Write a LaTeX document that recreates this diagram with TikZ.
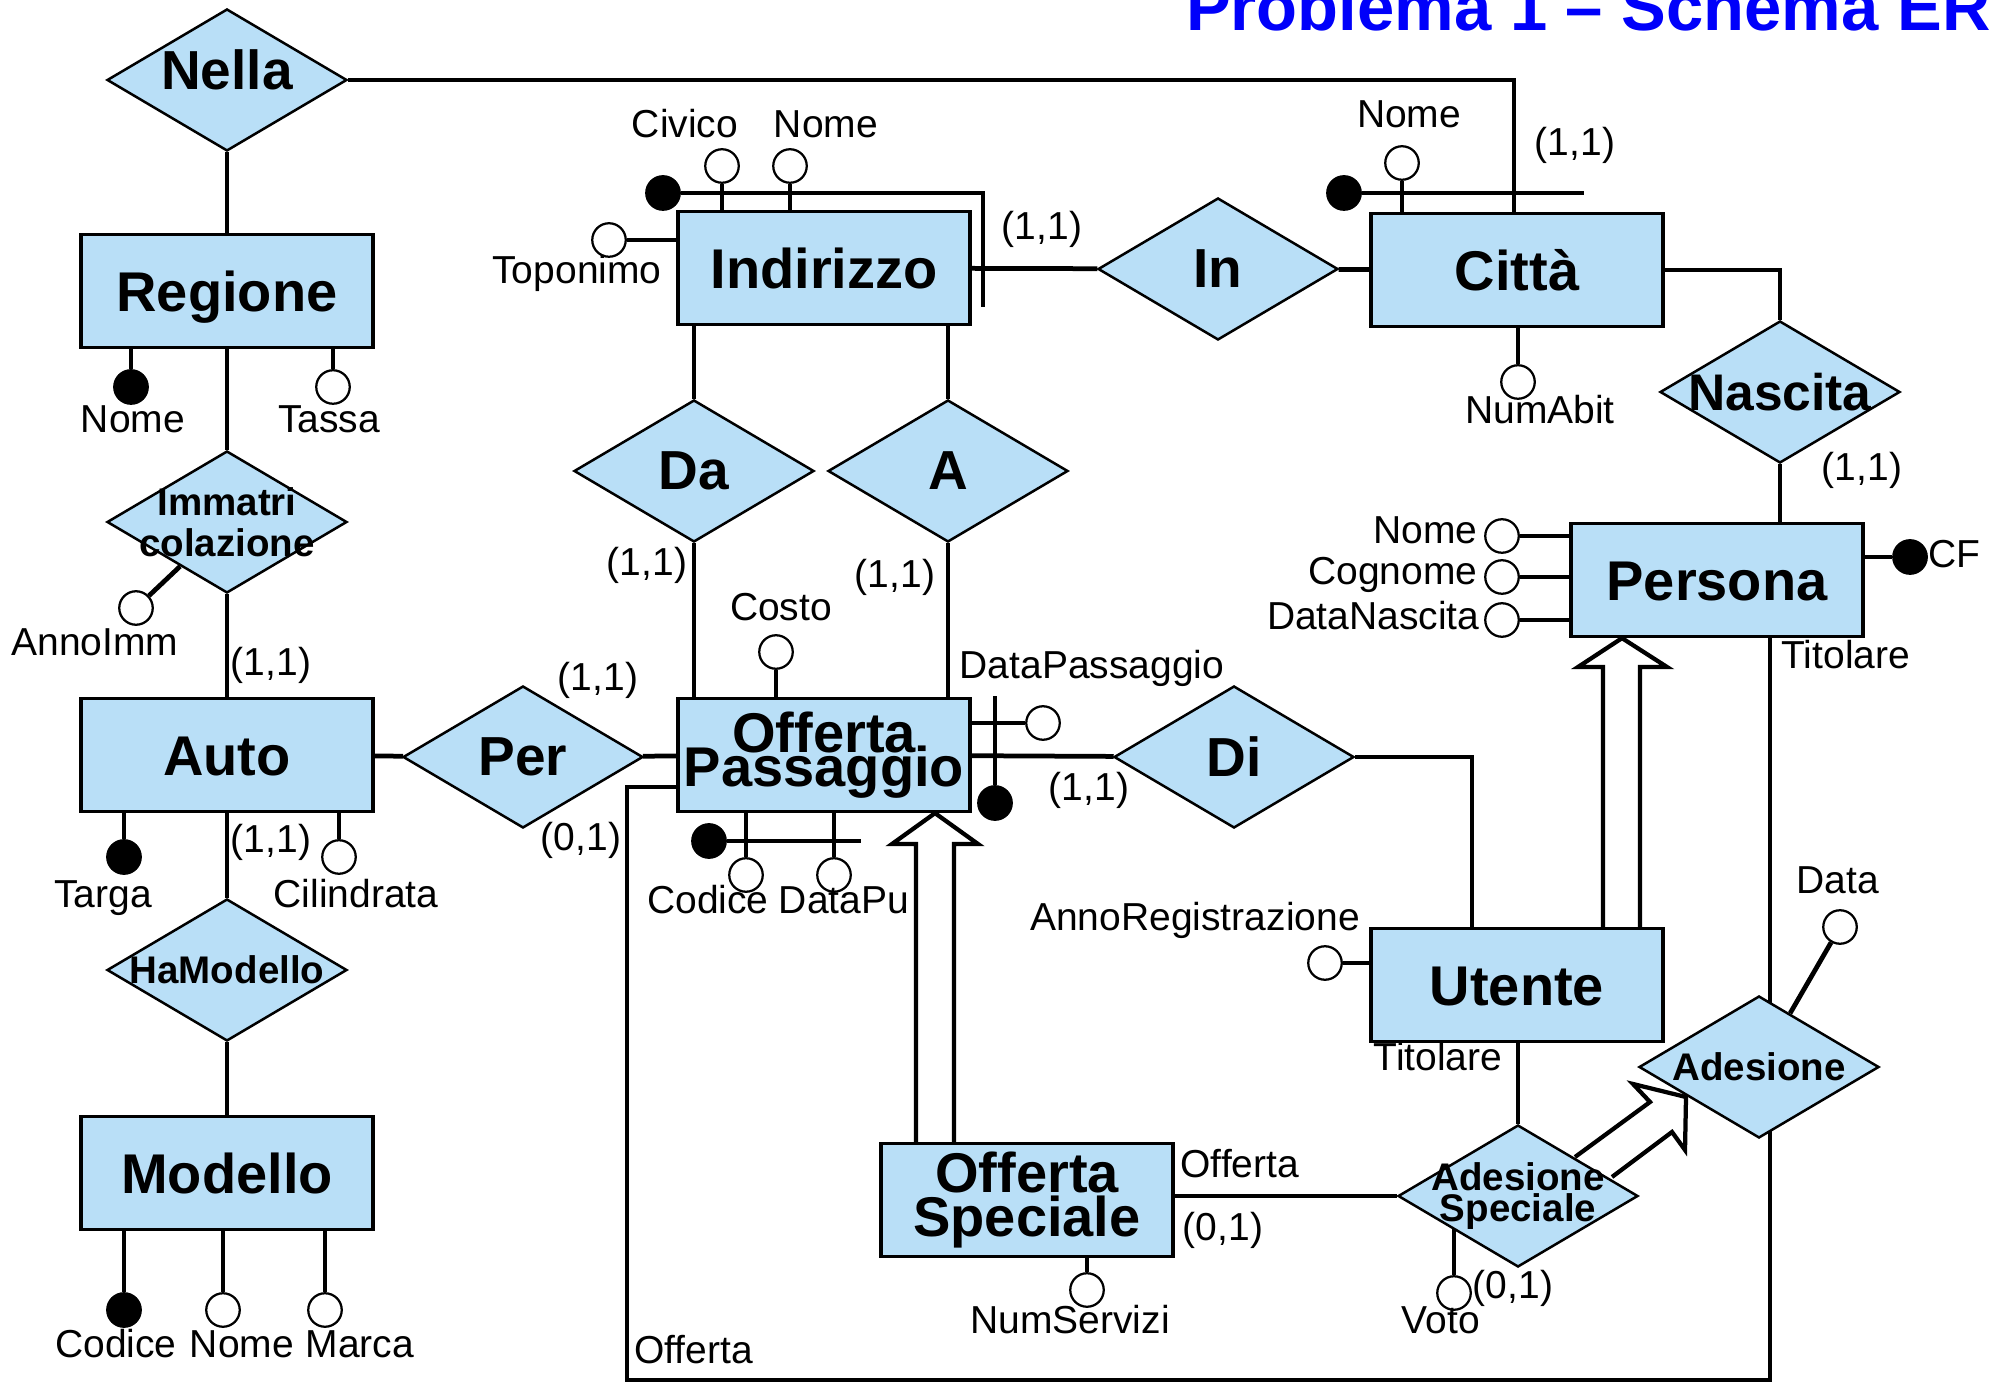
\documentclass[tikz,border=0pt]{standalone}
\usepackage{fontspec}
\setmainfont{Liberation Sans}
\usetikzlibrary{shapes.geometric, backgrounds, positioning}
\definecolor{erfill}{RGB}{185,223,247}
\definecolor{titleblue}{RGB}{0,0,250}
\setlength{\lineskiplimit}{-100pt}

\begin{document}
\begin{tikzpicture}[x=0.4pt, y=-0.4pt,
    entbox/.style={draw, fill=erfill, line width=1.3pt, minimum width=116.8pt, minimum height=45.2pt, inner sep=0pt, align=center, font=\bfseries\fontsize{22.4}{22.4}\selectfont},
    ent/.style={entbox, text height=16.2pt, text depth=0pt},
    rel/.style={diamond, draw, fill=erfill, line width=1pt, minimum width=96pt, minimum height=56.8pt, inner sep=0pt},
    relname/.style={inner sep=0pt, align=center, font=\bfseries\fontsize{22}{22}\selectfont},
    relsmall/.style={inner sep=0pt, align=center, font=\bfseries\fontsize{15.4}{16.4}\selectfont},
    attr/.style={circle, draw, fill=white, line width=0.9pt, minimum size=13.4pt, inner sep=0pt},
    key/.style={attr, fill=black},
    lbl/.style={inner sep=0pt, text height=11.2pt, text depth=3pt, font=\fontsize{15.6}{15.6}\selectfont},
    link/.style={line width=1.9pt},
    isa/.style={line width=1.7pt, line join=miter}
  ]
  \useasboundingbox (0,0) rectangle (2004,1383);
  \clip (0,0) rectangle (2004,1383);

  % --- TITLE ---
  \node[anchor=base east, inner sep=0pt, text=titleblue, font=\bfseries\fontsize{26.8}{26.8}\selectfont] (title) at (1991,31) {Problema 1 – Schema ER};

  % --- ENTITIES ---
  \node[ent] (regione) at (227,291) {Regione};
  \node[ent] (indirizzo) at (824,268) {Indirizzo};
  \node[ent] (citta) at (1517,270) {Città};
  \node[ent] (persona) at (1717,580) {Persona};
  \node[ent] (auto) at (227,755) {Auto};
  \node[entbox, font=\bfseries\fontsize{22.4}{13.6}\selectfont] (offpass) at (824,755) {Offerta\\Passaggio};
  \node[ent] (utente) at (1517,985) {Utente};
  \node[ent] (modello) at (227,1173) {Modello};
  \node[entbox, font=\bfseries\fontsize{22.4}{17.6}\selectfont] (offspec) at (1027,1200) {Offerta\\Speciale};

  % --- RELATIONSHIPS ---
  \node[rel, label={[relname, yshift=4pt]center:Nella}] (rnella) at (227,80) {};
  \node[rel, label={[relname]center:In}] (rin) at (1218,269) {};
  \node[rel, label={[relname, font=\bfseries\fontsize{20.6}{20.6}\selectfont]center:Nascita}] (rnascita) at (1780,392) {};
  \node[rel, label={[relsmall]center:Immatri\\colazione}] (rimmatr) at (227,522) {};
  \node[rel, label={[relname]center:Da}] (rda) at (694,471) {};
  \node[rel, label={[relname]center:A}] (ra) at (948,471) {};
  \node[rel, label={[relname]center:Per}] (rper) at (523,757) {};
  \node[rel, label={[relname]center:Di}] (rdi) at (1234,757) {};
  \node[rel, label={[relsmall]center:HaModello}] (rhamod) at (227,970) {};
  \node[rel, label={[relsmall, font=\bfseries\fontsize{15.4}{12.4}\selectfont]center:Adesione\\Speciale}] (radspec) at (1518,1196) {};
  \node[rel, label={[relsmall]center:Adesione}] (rades) at (1759,1067) {};

  % --- ATTRIBUTES ---
  \node[key] (regNome) at (131,387) {};
  \node[attr] (regTassa) at (333,387) {};
  \node[key] (indKey) at (663,193) {};
  \node[attr] (indCivico) at (722,166) {};
  \node[attr] (indNome) at (790,166) {};
  \node[attr] (indTopon) at (609,240) {};
  \node[key] (citKey) at (1344,193) {};
  \node[attr] (citNome) at (1402,163) {};
  \node[attr] (citAbit) at (1518,382) {};
  \node[attr] (perNome) at (1502,536) {};
  \node[attr] (perCogn) at (1502,577) {};
  \node[attr] (perData) at (1502,620) {};
  \node[key] (perCF) at (1910,557) {};
  \node[attr] (immAnno) at (136,608) {};
  \node[key] (autTarga) at (124,857) {};
  \node[attr] (autCil) at (339,857) {};
  \node[attr] (opCosto) at (776,652) {};
  \node[attr] (opDataP) at (1043,723) {};
  \node[key] (opKeyP) at (995,803) {};
  \node[key] (opKey) at (709,841) {};
  \node[attr] (opCod) at (746,875) {};
  \node[attr] (opDataPu) at (834,875) {};
  \node[attr] (osNum) at (1087,1290) {};
  \node[attr] (utAnno) at (1325,963) {};
  \node[attr] (asVoto) at (1454,1293) {};
  \node[attr] (adData) at (1840,927) {};
  \node[key] (modCod) at (124,1310) {};
  \node[attr] (modNome) at (223,1310) {};
  \node[attr] (modMarca) at (325,1310) {};

  % --- ATTRIBUTE NAMES ---
  \node[lbl] (tRegNome) at (133,422) {Nome};
  \node[lbl] (tRegTassa) at (329,422) {Tassa};
  \node[lbl] (tIndCivico) at (685,127) {Civico};
  \node[lbl] (tIndNome) at (826,127) {Nome};
  \node[lbl] (tIndTopon) at (577,273) {Toponimo};
  \node[lbl] (tCitNome) at (1409,117) {Nome};
  \node[lbl] (tCitAbit) at (1540,413) {NumAbit};
  \node[lbl, anchor=east] (tPerNome) at (1478,533) {Nome};
  \node[lbl, anchor=east] (tPerCogn) at (1478,574) {Cognome};
  \node[lbl, anchor=east] (tPerData) at (1480,619) {DataNascita};
  \node[lbl, anchor=west] (tPerCF) at (1928,557) {CF};
  \node[lbl] (tImmAnno) at (95,645) {AnnoImm};
  \node[lbl] (tAutTarga) at (103,897) {Targa};
  \node[lbl] (tAutCil) at (356,897) {Cilindrata};
  \node[lbl] (tOpCosto) at (781,610) {Costo};
  \node[lbl] (tOpDataP) at (1092,668) {DataPassaggio};
  \node[lbl] (tOpCod) at (708,903) {Codice};
  \node[lbl] (tOpDataPu) at (844,903) {DataPu};
  \node[lbl] (tOsNum) at (1070,1323) {NumServizi};
  \node[lbl] (tUtAnno) at (1195,920) {AnnoRegistrazione};
  \node[lbl] (tAsVoto) at (1441,1323) {Voto};
  \node[lbl] (tAdData) at (1838,883) {Data};
  \node[lbl] (tModCod) at (116,1347) {Codice};
  \node[lbl] (tModNome) at (242,1347) {Nome};
  \node[lbl] (tModMarca) at (360,1347) {Marca};

  % --- CARDINALITIES AND ROLES ---
  \node[lbl] (cNella) at (1575,145) {(1,1)};
  \node[lbl] (cIn) at (1042,229) {(1,1)};
  \node[lbl] (cImmatr) at (271,665) {(1,1)};
  \node[lbl] (cHaMod) at (271,842) {(1,1)};
  \node[lbl] (cPerOp) at (598,680) {(1,1)};
  \node[lbl] (cPerAuto) at (581,840) {(0,1)};
  \node[lbl] (cDa) at (647,565) {(1,1)};
  \node[lbl] (cA) at (895,577) {(1,1)};
  \node[lbl] (cDi) at (1089,790) {(1,1)};
  \node[lbl] (cNascita) at (1862,470) {(1,1)};
  \node[lbl] (cOs) at (1223,1230) {(0,1)};
  \node[lbl] (cAs) at (1513,1288) {(0,1)};
  \node[lbl, anchor=west] (rTitP) at (1781,658) {Titolare};
  \node[lbl] (rTitU) at (1438,1060) {Titolare};
  \node[lbl, anchor=west] (rOffOs) at (1180,1167) {Offerta};
  \node[lbl, anchor=west] (rOffOp) at (634,1353) {Offerta};

  \begin{scope}[on background layer]
    % links of the left column
    \draw[link] (rnella) -- (regione);
    \draw[link] (regione) -- (rimmatr);
    \draw[link] (rimmatr) -- (auto);
    \draw[link] (auto) -- (rhamod);
    \draw[link] (rhamod) -- (modello);
    \draw[link] (rnella.east) -| (citta.north -| 1514,0);
    % links of the middle
    \draw[link] (indirizzo) -- (rin);
    \draw[link] (rin) -- (citta);
    \draw[link] (indirizzo.south -| rda) -- (rda);
    \draw[link] (rda) -- (offpass.north -| rda);
    \draw[link] (indirizzo.south -| ra) -- (ra);
    \draw[link] (ra) -- (offpass.north -| ra);
    \draw[link] (auto) -- (rper);
    \draw[link] (rper) -- (offpass);
    \draw[link] (offpass) -- (rdi);
    \draw[link] (rdi.east) -| (utente.north -| 1472,0);
    % links of the right
    \draw[link] (citta.east) -| (rnascita.north);
    \draw[link] (rnascita) -- (persona.north -| rnascita);
    \draw[link] (utente.south -| radspec) -- (radspec);
    \draw[link] (offspec.east |- radspec) -- (radspec);
    \draw[link] (persona.south -| 1770,0) -- (rades -| 1770,0);
    \draw[link] (offpass.west |- 0,787) -- (627,787) -- (627,1380) -| (rades -| 1770,0);
    % generalisations
    \draw[isa] (offspec.north -| 916,0) -- (916,844) -- (892,844) -- (offpass.south -| 935,0) -- (978,844) -- (954,844) -- (offspec.north -| 954,0);
    \draw[isa] (utente.north -| 1603,0) -- (1603,667) -- (1578,667) -- (persona.south -| 1622,0) -- (1667,667) -- (1640,667) -- (utente.north -| 1640,0);
    \draw[isa] (1575,1157) -- (1650,1102) -- (1633,1084) -- (1686,1097) -- (1685,1150) -- (1672,1132) -- (1612,1177);
    % attribute stems
    \draw[link] (regNome) -- (regNome |- regione.south);
    \draw[link] (regTassa) -- (regTassa |- regione.south);
    \draw[link] (indKey) -| (983,307);
    \draw[link] (indCivico) -- (indCivico |- indirizzo.north);
    \draw[link] (indNome) -- (indNome |- indirizzo.north);
    \draw[link] (indTopon) -- (indTopon -| indirizzo.west);
    \draw[link] (citKey) -- ++(240,0);
    \draw[link] (citNome) -- (citNome |- citta.north);
    \draw[link] (citAbit) -- (citAbit |- citta.south);
    \draw[link] (perNome) -- (perNome -| persona.west);
    \draw[link] (perCogn) -- (perCogn -| persona.west);
    \draw[link] (perData) -- (perData -| persona.west);
    \draw[link] (perCF) -- (perCF -| persona.east);
    \draw[link] (immAnno) -- (rimmatr);
    \draw[link] (autTarga) -- (autTarga |- auto.south);
    \draw[link] (autCil) -- (autCil |- auto.south);
    \draw[link] (opCosto) -- (opCosto |- offpass.north);
    \draw[link] (opDataP) -- (opDataP -| offpass.east);
    \draw[link] (opKeyP) -- ++(0,-107);
    \draw[link] (opKey) -- ++(152,0);
    \draw[link] (opCod) -- (opCod |- offpass.south);
    \draw[link] (opDataPu) -- (opDataPu |- offpass.south);
    \draw[link] (osNum) -- (osNum |- offspec.south);
    \draw[link] (utAnno) -- (utAnno -| utente.west);
    \draw[link] (asVoto) -- (asVoto |- radspec);
    \draw[link] (adData) -- (rades);
    \draw[link] (modCod) -- (modCod |- modello.south);
    \draw[link] (modNome) -- (modNome |- modello.south);
    \draw[link] (modMarca) -- (modMarca |- modello.south);
  \end{scope}
\end{tikzpicture}
\end{document}
